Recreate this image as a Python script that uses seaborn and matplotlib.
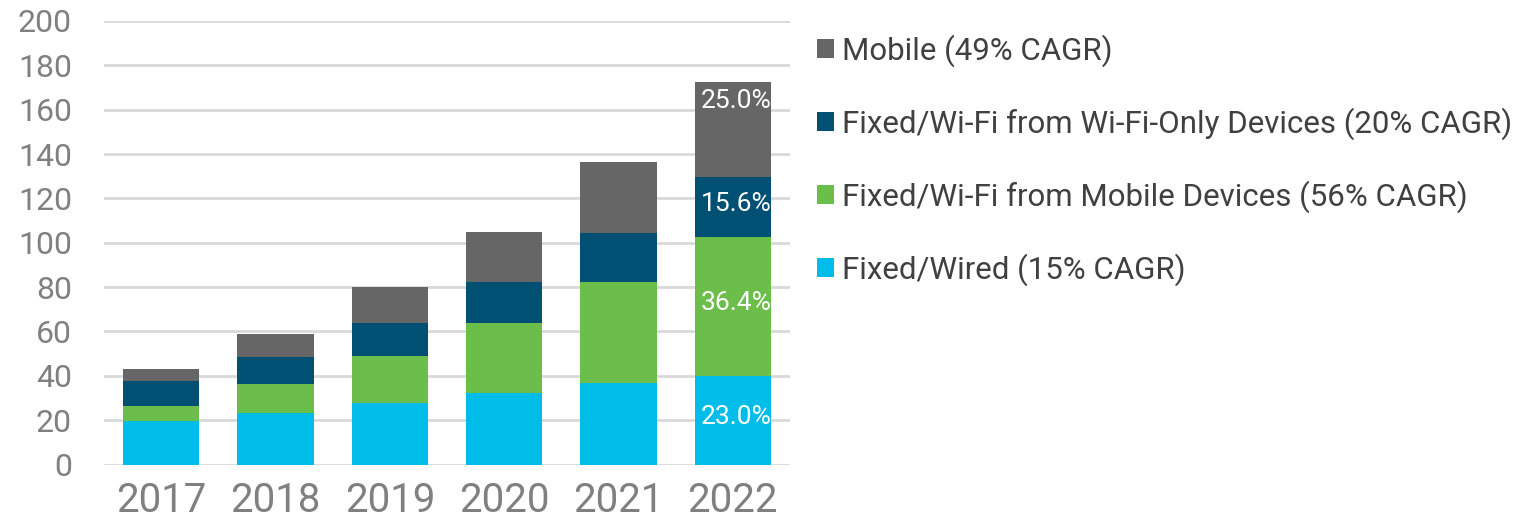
import matplotlib
matplotlib.use("Agg")
import matplotlib.pyplot as plt
from matplotlib.patches import Patch
import numpy as np
import pandas as pd
import seaborn as sns

# Traffic by access type, stacked per year
years = ["2017", "2018", "2019", "2020", "2021", "2022"]
fixed_wired = [19.5, 23.1, 27.6, 32.1, 36.8, 39.7]
wifi_from_mobile = [6.8, 13.1, 21.4, 31.9, 45.6, 62.9]
wifi_only_devices = [11.4, 12.5, 15.0, 18.1, 22.1, 26.9]
mobile = [5.4, 10.2, 16.0, 22.9, 31.9, 43.2]

series_labels = [
    "Fixed/Wired (15% CAGR)",
    "Fixed/Wi-Fi from Mobile Devices (56% CAGR)",
    "Fixed/Wi-Fi from Wi-Fi-Only Devices (20% CAGR)",
    "Mobile (49% CAGR)",
]
colors = ["#00BCE9", "#6CBE4B", "#005073", "#666666"]
y_ticks = [0, 20, 40, 60, 80, 100, 120, 140, 160, 180, 200]

sns.set_theme(style="white")
plt.rcParams["font.family"] = ["Roboto", "DejaVu Sans"]

layers = np.array([fixed_wired, wifi_from_mobile, wifi_only_devices, mobile])
cumulative = np.cumsum(layers, axis=0)

fig = plt.figure(figsize=(15.32, 5.25), dpi=100)
ax = fig.add_axes([104 / 1532, 1 - 464.5 / 525, 686 / 1532, 443.5 / 525])

# Draw stacks from the tallest cumulative total down so each layer shows
for i in range(len(series_labels) - 1, -1, -1):
    df = pd.DataFrame({"year": years, "value": cumulative[i]})
    sns.barplot(data=df, x="year", y="value", color=colors[i], saturation=1,
                width=0.665, ax=ax, zorder=3, linewidth=0)

ax.set_ylim(0, 200)
ax.set_xlim(-0.5, 5.5)
ax.set_yticks(y_ticks)
ax.set_xlabel("")
ax.set_ylabel("")
ax.grid(axis="y", color="#D9D9D9", linewidth=2, zorder=0)
ax.grid(axis="x", visible=False)
for s in ax.spines.values():
    s.set_visible(False)
ax.tick_params(axis="y", length=0, pad=23, labelsize=23, labelcolor="#808080")
ax.tick_params(axis="x", length=0, pad=12, labelsize=29, labelcolor="#808080")

# Share labels on the final year
last = len(years) - 1
total = cumulative[-1, last]
for i in range(len(series_labels)):
    base = cumulative[i - 1, last] if i > 0 else 0.0
    top = cumulative[i, last]
    share = layers[i, last] / total * 100
    if i == len(series_labels) - 1:
        ypos = top - 3.5
        va = "top"
    else:
        ypos = (base + top) / 2 + 1.5
        va = "center"
    ax.text(last + 0.03, ypos, f"{share:.1f}%", ha="center", va=va,
            color="white", fontsize=19, zorder=5)

handles = [Patch(facecolor=colors[i], edgecolor="none") for i in range(3, -1, -1)]
labels = [series_labels[i] for i in range(3, -1, -1)]
fig.legend(handles, labels, loc="upper left",
           bbox_to_anchor=(817 / 1532, 1 - 34 / 525), frameon=False,
           fontsize=22.5, labelcolor="#404040", handlelength=0.55,
           handleheight=0.55, handletextpad=0.25, labelspacing=1.3,
           borderpad=0, borderaxespad=0)

fig.savefig("out.png", dpi=100)
